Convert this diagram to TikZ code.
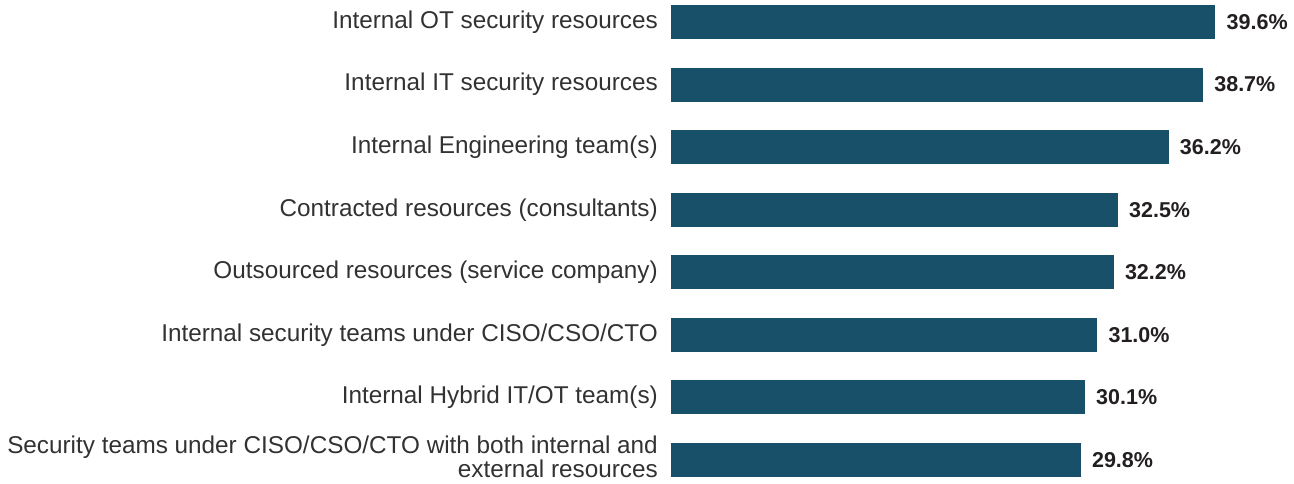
\documentclass[tikz,border=0pt]{standalone}
\usepackage{fontspec}
\setmainfont{Liberation Sans}
\usetikzlibrary{positioning}
\definecolor{barblue}{RGB}{25,80,105}
\definecolor{labelgray}{RGB}{50,50,50}
\definecolor{valblack}{RGB}{35,31,32}
\tikzset{
    bar/.style = {fill=barblue, draw=none, inner sep=0pt, minimum height=34pt, anchor=west},
    cat/.style = {align=right, text=labelgray, inner sep=0pt, font=\fontsize{24.3}{24}\selectfont},
    val/.style = {text=valblack, inner sep=0pt, font=\fontsize{21.5}{24}\selectfont\bfseries}
}

\begin{document}
\begin{tikzpicture}[x=1pt, y=-1pt]
        \useasboundingbox (0, 0) rectangle (1294, 483);
        \foreach \v/\sh/\txt [count=\i] in {
            39.6/0/{Internal OT security resources},
            38.7/0/{Internal IT security resources},
            36.2/0/{Internal Engineering team(s)},
            32.5/0/{Contracted resources (consultants)},
            32.2/0/{Outsourced resources (service company)},
            31.0/0/{Internal security teams under CISO/CSO/CTO},
            30.1/0/{Internal Hybrid IT/OT team(s)},
            29.8/3/{Security teams under CISO/CSO/CTO with both internal and\\external resources}}
        {
            \node[bar, minimum width=\v*13.74pt] (b\i) at (671, {22 + 62.57*(\i-1)}) {};
            \node[cat, left=13pt of b\i, yshift=\sh pt] (c\i) {\txt};
            \node[val, right=11pt of b\i] (v\i) {\v\%};
        }
    \end{tikzpicture}
\end{document}
